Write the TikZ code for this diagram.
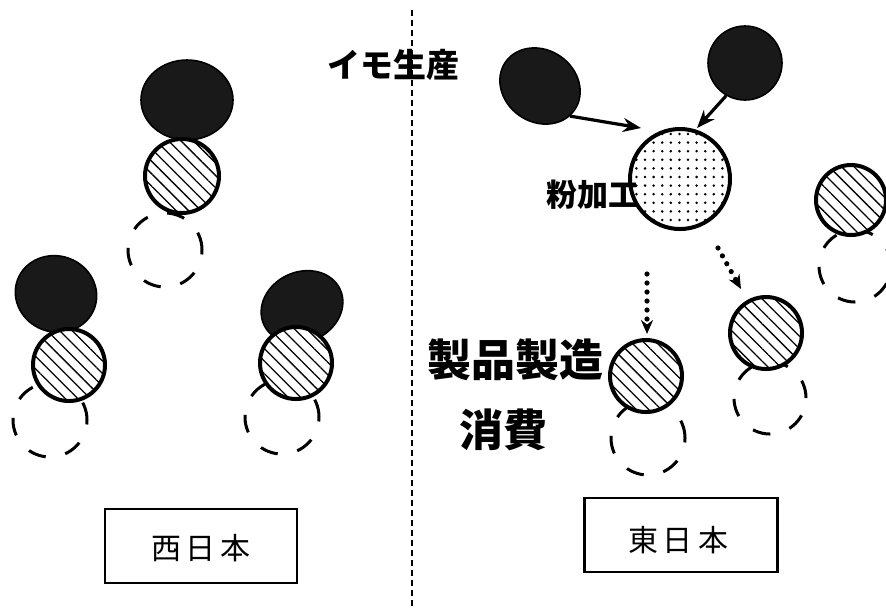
\documentclass[tikz,border=0pt]{standalone}
\usepackage{fontspec}
\newfontfamily\jp{Noto Sans CJK JP}
\usetikzlibrary{shapes.geometric,patterns.meta,arrows.meta}
\begin{document}
\begin{tikzpicture}[x=0.5pt,y=-0.5pt,
  dark/.style={ellipse,fill=black!90,draw=black,line width=0.8pt,inner sep=0pt},
  hatch/.style={circle,draw=black,line width=2pt,inner sep=0pt,fill=white,
    minimum size=#1,
    postaction={pattern={Lines[angle=-45,distance=4.4pt,line width=0.65pt]}}},
  dashc/.style={circle,draw=black,line width=1.5pt,inner sep=0pt,minimum size=#1,
    dash pattern=on 9pt off 10pt},
  powder/.style={circle,draw=black,line width=2pt,inner sep=0pt,fill=white,
    minimum size=#1,postaction={pattern={Dots[distance=4.3pt,radius=0.7pt]}}},
  solidarrow/.style={line width=1.6pt,-{Stealth[length=9pt,width=7pt]}},
  dotarrow/.style={line width=2.6pt,line cap=round,dash pattern=on 0pt off 4.5pt,
    -{Stealth[length=7pt,width=6pt,line cap=butt]}},
  lbl/.style={font=\jp\bfseries,inner sep=0pt},
  box/.style={draw=black,line width=1.2pt,inner sep=0pt}
]
\useasboundingbox (0,0) rectangle (886,607);

% divider
\coordinate (dtop) at (412,10);
\coordinate (dbot) at (412,607);
\draw[line width=1.3pt,dash pattern=on 3pt off 2pt] (dtop) -- (dbot);

% ---------- West Japan ----------
\node[dashc=37pt] (wd1) at (165,250) {};
\node[dark,minimum width=46pt,minimum height=40pt] (we1) at (187,100) {};
\node[hatch=37pt] (wh1) at (182,176) {};

\node[dashc=37pt] (wd2) at (50,420) {};
\node[dark,minimum width=41pt,minimum height=38pt,rotate=-20] (we2) at (56,294) {};
\node[hatch=36pt] (wh2) at (69,365) {};

\node[dashc=37pt] (wd3) at (282,417) {};
\node[dark,minimum width=42pt,minimum height=35pt,rotate=25] (we3) at (302,307) {};
\node[hatch=36pt] (wh3) at (296,363) {};

% ---------- East Japan ----------
\node[dark,minimum width=42pt,minimum height=36pt,rotate=-35] (ee1) at (540,86) {};
\node[dark,minimum width=37pt,minimum height=37pt] (ee2) at (745,63) {};
\node[powder=50pt] (pc) at (680,179) {};

\coordinate (a1) at (641,128);
\coordinate (a2) at (697,128);
\draw[solidarrow] (ee1.-10) -- (a1);
\draw[solidarrow] (ee2.-120) -- (a2);

\node[dashc=37pt] (ed1) at (648,438) {};
\node[hatch=36pt] (eh1) at (646,376) {};

\node[dashc=36pt] (ed2) at (770,398) {};
\node[hatch=36pt] (eh2) at (766,333) {};

\node[dashc=36pt] (ed3) at (855,266) {};
\node[hatch=35pt] (eh3) at (851,200) {};

\coordinate (d1s) at (647,274);
\coordinate (d1e) at (647,334);
\coordinate (d2s) at (718,248);
\coordinate (d2e) at (741,289);
\draw[dotarrow] (d1s) -- (d1e);
\draw[dotarrow] (d2s) -- (d2e);

% ---------- labels ----------
\node[lbl,font=\jp\bfseries\fontsize{16.5pt}{18pt}\selectfont] (t1) at (393,65) {イモ生産};
\node[lbl,font=\jp\bfseries\fontsize{15.5pt}{18pt}\selectfont,anchor=east] (t2) at (640,195) {粉加工};
\node[lbl,font=\jp\bfseries\fontsize{22pt}{24pt}\selectfont] (t3) at (515,360) {製品製造};
\node[lbl,font=\jp\bfseries\fontsize{22pt}{24pt}\selectfont] (t4) at (503,430) {消費};

\node[box,minimum width=96pt,minimum height=37pt] (bw) at (201,546) {};
\node[font=\jp\fontsize{15pt}{17pt}\selectfont] (bwt) at (201,548) {西\hspace{2.5pt}日\hspace{2.5pt}本};
\node[box,minimum width=96.5pt,minimum height=37pt] (be) at (681,535) {};
\node[font=\jp\fontsize{15pt}{17pt}\selectfont] (bet) at (678,540) {東\hspace{2.5pt}日\hspace{2.5pt}本};
\end{tikzpicture}
\end{document}
